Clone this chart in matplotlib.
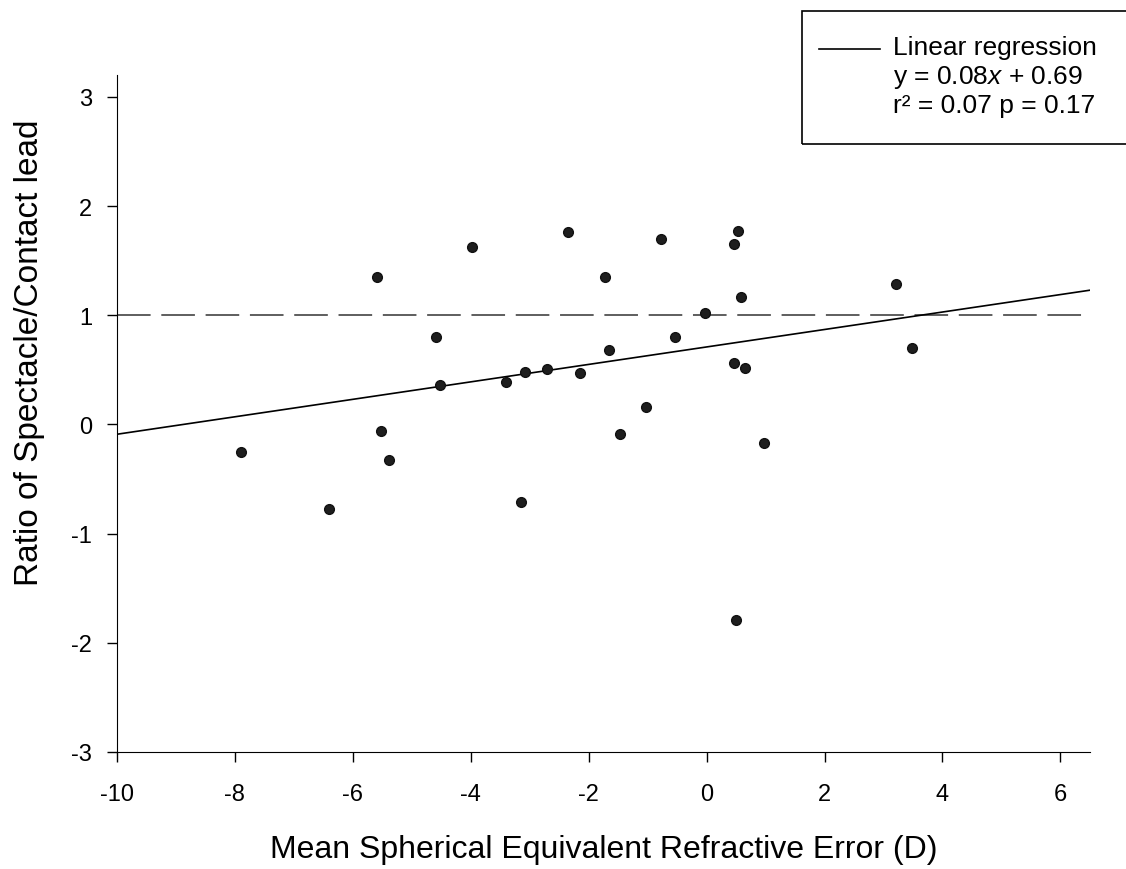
import numpy as np
import matplotlib.pyplot as plt
from matplotlib.patches import Rectangle
from matplotlib.lines import Line2D

plt.rcParams['font.family'] = ['Liberation Sans', 'DejaVu Sans']
plt.rcParams['axes.unicode_minus'] = False
plt.rcParams['mathtext.fontset'] = 'custom'
plt.rcParams['mathtext.it'] = 'Liberation Sans:italic'
plt.rcParams['mathtext.rm'] = 'Liberation Sans'

# mean spherical equivalent refractive error (D) vs spectacle/contact lead ratio
ser = [-5.59, -3.97, -2.35, -4.58, -4.52, -3.40, -3.08, -2.71, -2.15,
       -7.89, -5.52, -5.39, -6.40, -3.14,
       -0.78, 0.53, 0.46, -1.72, 3.22, 0.59, -0.03, -0.53, -1.65, 3.48,
       0.47, 0.66, -1.02, -1.46, 0.98, 0.50]
ratio = [1.35, 1.63, 1.76, 0.80, 0.36, 0.39, 0.48, 0.51, 0.47,
         -0.25, -0.06, -0.33, -0.77, -0.71,
         1.70, 1.77, 1.65, 1.35, 1.29, 1.17, 1.02, 0.80, 0.68, 0.70,
         0.56, 0.52, 0.16, -0.09, -0.17, -1.79]
reg_slope = 0.08
reg_intercept = 0.71
ref_level = 1.0
x_ticks = [-10, -8, -6, -4, -2, 0, 2, 4, 6]
y_ticks = [-3, -2, -1, 0, 1, 2, 3]
legend_lines = ['Linear regression', 'y = 0.08$\\mathit{x}$ + 0.69',
                'r\u00b2 = 0.07 p = 0.17']

fig = plt.figure(figsize=(11.26, 8.7), dpi=100)
ax = fig.add_axes([0.1036, 0.1345, 0.8644, 0.778])

xmin, xmax = -10, 6.5
xl = np.array([xmin, xmax])
ax.plot([xmin, 6.37], [ref_level, ref_level], color='#333333', lw=1.1,
        dashes=(22, 7))
ax.plot(xl, reg_slope * xl + reg_intercept, color='black', lw=1.2)
ax.plot(ser, ratio, 'o', color='#1e1e1e', markersize=7, mec='#111111')

ax.set_xlim(xmin, xmax)
ax.set_ylim(-3, 3.2)
ax.set_xticks(x_ticks)
ax.set_yticks(y_ticks)
ax.spines['top'].set_visible(False)
ax.spines['right'].set_visible(False)
ax.tick_params(direction='out', length=7, width=1, labelsize=17)
ax.tick_params(axis='x', pad=15)
ax.tick_params(axis='y', pad=10.8)
ax.set_xlabel('Mean Spherical Equivalent Refractive Error (D)', fontsize=23,
              labelpad=21)
ax.set_ylabel('Ratio of Spectacle/Contact lead', fontsize=24)
ax.yaxis.set_label_coords(-0.074, 0.592)

# legend box, runs off the right edge like the original
fig.patches.append(Rectangle((801.7 / 1126, 1 - 145 / 870), 0.3, 133 / 870,
                             transform=fig.transFigure, fill=False,
                             edgecolor='black', lw=1.2))
fig.lines.append(Line2D([819 / 1126, 880 / 1126], [1 - 50 / 870, 1 - 50 / 870],
                        transform=fig.transFigure, color='black', lw=1.2))
for i, s in enumerate(legend_lines):
    fig.text(893 / 1126, 1 - (55 + 29 * i) / 870, s, fontsize=19,
             va='baseline', ha='left')

fig.savefig('out.png', dpi=100)
